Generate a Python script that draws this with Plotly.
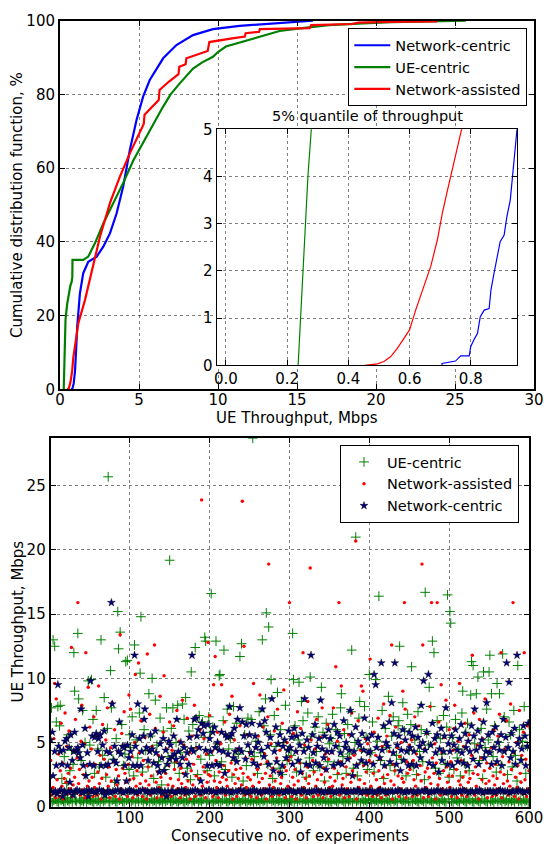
import plotly.graph_objects as go

NC_CDF_X = [0.706, 0.706, 0.75, 0.767, 0.795, 0.80, 0.811, 0.822, 0.831, 0.844, 0.86, 0.866, 0.876, 0.887, 0.896,
            0.909, 0.918, 0.929, 0.936, 0.944, 0.951, 1.0, 1.09, 1.26, 1.47, 1.79, 2.32, 2.74, 3.16, 3.58,
            4.0, 4.42, 4.84, 5.26, 5.68, 6.53, 7.37, 8.42, 9.68, 11.37, 13.9, 15.9, 16.0]
NC_CDF_Y = [0, 0.04, 0.09, 0.2, 0.2, 0.4, 0.55, 0.68, 1.03, 1.17, 1.2, 1.6, 1.95, 2.3, 2.62,
            2.76, 3.15, 3.5, 4.0, 4.49, 5.0, 9, 17, 26, 31.5, 34.6, 36, 38.7, 42.3, 47.7,
            55, 64.9, 73, 79.4, 83.9, 89.8, 93.4, 96.1, 97.7, 98.6, 99.3, 99.8, 100]

UE_CDF_X = [0.236, 0.244, 0.252, 0.260, 0.268, 0.279, 0.30, 0.35, 0.45, 0.55, 0.65, 0.74, 0.78, 0.79, 1.47,
            1.79, 2.21, 2.74, 3.37, 4.0, 4.63, 5.26, 5.89, 6.5, 7.0, 7.58, 8.42, 9.0, 9.68, 10.0,
            10.5, 12.2, 13.9, 15.2, 17.0, 19.2, 21.0, 25.7]
UE_CDF_Y = [0, 1, 2, 3, 4, 5, 12, 19, 23, 26, 28, 29.2, 30.5, 35.1, 35.1,
            36, 39.6, 45, 50.5, 56, 62, 67, 72, 76.5, 80, 83, 87, 88.7, 90.2, 91.5,
            93, 95.2, 97.2, 97.9, 98.8, 99.3, 99.6, 100]

NA_CDF_X = [0.453, 0.495, 0.516, 0.538, 0.560, 0.600, 0.620, 0.647, 0.669, 0.691, 0.707, 0.724, 0.746, 0.770, 0.84,
            1.0, 1.16, 1.58, 2.0, 2.53, 3.16, 3.79, 4.42, 5.05, 5.3, 5.35, 5.9, 6.25, 6.3, 6.9,
            7.5, 7.55, 7.95, 8.0, 9.35, 9.45, 10.9, 11.7, 11.75, 12.6, 12.65, 14.0, 15.8, 15.9, 18.5,
            18.9, 20.7, 23.8, 23.9]
NA_CDF_Y = [0, 0.03, 0.08, 0.18, 0.36, 0.75, 1.17, 1.67, 2.09, 2.66, 3.22, 3.71, 4.35, 5.0, 8.5,
            14, 17.9, 24.2, 31.5, 41.4, 50.5, 57.7, 64.0, 69.4, 72, 74.5, 77, 78.5, 81.2, 83.5,
            85.5, 87.5, 88.2, 89.8, 91.8, 94.2, 95.2, 95.7, 96.6, 97.0, 97.7, 97.9, 98.0, 98.8, 99.1,
            99.5, 99.7, 99.8, 100]

# ---------------- data: per-experiment throughput (bottom panel), Mbps ----------------
UE_CENTRIC = [
    0.4, 7.7, 0.3, 13.0, 0.5, 12.5, 0.6, 6.6, 0.4, 7.8, 0.3, 6.3, 7.9, 0.5, 2.2, 0.6, 0.4, 3.9, 0.3, 0.7,
    1.8, 0.5, 5.6, 0.4, 2.8, 0.6, 4.4, 0.3, 3.3, 12.0, 9.0, 0.5, 0.4, 4.2, 13.5, 8.4, 0.6, 0.3, 3.6, 0.5,
    7.5, 0.4, 0.7, 5.0, 2.5, 0.3, 0.6, 9.8, 0.5, 4.8,
    0.5, 9.9, 0.4, 6.8, 0.3, 2.6, 0.6, 7.5, 0.4, 4.5, 0.5, 3.1, 0.3, 13.0, 0.6, 4.0, 0.4, 8.5, 0.5, 2.3,
    0.7, 6.1, 25.7, 0.4, 0.3, 10.6, 7.7, 0.5, 3.7, 0.6, 1.9, 0.4, 5.3, 0.3, 15.2, 12.3, 0.5, 13.6, 0.6, 6.4,
    0.4, 3.2, 0.3, 4.1, 11.3, 0.5, 11.4, 0.6, 2.9, 5.6,
    4.6, 0.4, 7.0, 0.5, 2.4, 12.6, 0.3, 5.2, 0.6, 3.8, 0.4, 7.3, 10.4, 14.8, 0.5, 2.7, 0.3, 6.0, 0.6, 4.4,
    0.4, 0.5, 3.1, 8.8, 0.3, 5.5, 0.6, 10.0, 0.4, 2.2, 0.5, 8.3, 0.3, 4.8, 0.6, 3.5, 0.4, 6.9, 0.5, 1.7,
    0.3, 5.9, 0.6, 2.9, 0.4, 7.7, 0.5, 3.9, 0.7, 19.2,
    0.4, 6.1, 0.3, 7.7, 0.5, 3.4, 0.6, 5.0, 0.4, 7.9, 0.3, 2.6, 0.5, 4.2, 0.6, 8.0, 0.4, 6.8, 0.3, 8.5,
    0.5, 3.0, 0.4, 5.9, 0.6, 2.1, 10.5, 0.3, 6.4, 0.5, 0.4, 12.4, 4.6, 0.6, 2.5, 0.3, 7.1, 0.5, 3.7, 0.4,
    6.6, 0.6, 5.4, 13.2, 12.9, 0.3, 2.8, 0.5, 7.0, 4.0,
    5.8, 16.6, 0.4, 6.2, 0.3, 2.4, 0.5, 12.9, 0.6, 4.9, 0.4, 10.2, 10.3, 0.3, 3.5, 0.5, 6.7, 12.2, 0.6, 2.9,
    0.4, 7.6, 0.3, 4.5, 0.5, 5.3, 0.6, 2.3, 0.4, 7.8, 0.3, 3.6, 0.5, 6.5, 0.6, 4.1, 0.4, 11.7, 0.3, 12.7,
    0.5, 2.0, 0.6, 5.6, 0.4, 3.2, 0.3, 6.9, 0.5, 4.3,
    0.4, 6.8, 0.5, 28.7, 0.3, 3.9, 0.6, 5.1, 0.4, 2.6, 0.5, 7.4, 0.3, 4.2, 0.6, 13.0, 0.4, 6.3, 0.5, 8.4,
    15.1, 0.3, 3.3, 14.0, 0.6, 5.6, 9.9, 0.4, 2.2, 0.5, 7.1, 0.3, 4.7, 0.6, 8.9, 0.4, 3.0, 0.5, 6.0, 0.3,
    2.5, 0.6, 5.0, 0.4, 7.9, 0.5, 3.6, 0.3, 4.4, 0.6,
    0.5, 4.0, 0.4, 13.5, 9.9, 0.3, 6.3, 0.6, 2.7, 0.4, 5.2, 9.7, 0.5, 3.4, 8.2, 0.3, 6.7, 0.6, 4.6, 0.4,
    2.3, 0.5, 7.3, 0.3, 3.8, 10.1, 0.6, 5.5, 0.4, 2.8, 0.5, 6.2, 0.3, 4.3, 0.6, 7.0, 0.4, 3.1, 0.5, 9.3,
    0.3, 5.8, 0.6, 2.0, 0.4, 6.5, 0.5, 3.5, 0.3, 4.9,
    0.4, 5.3, 0.3, 7.2, 0.6, 3.3, 0.5, 6.0, 0.4, 2.5, 0.3, 4.7, 0.6, 7.7, 8.8, 0.5, 3.9, 0.4, 5.7, 0.3,
    2.6, 0.6, 6.4, 0.4, 4.1, 0.5, 7.4, 12.2, 0.3, 3.0, 0.6, 5.0, 21.0, 0.4, 2.4, 0.5, 6.9, 8.2, 0.3, 4.5,
    0.6, 3.4, 0.4, 7.8, 0.5, 5.4, 0.3, 2.9, 0.6, 10.3,
    0.5, 4.2, 0.3, 6.6, 0.6, 2.7, 0.4, 9.9, 0.5, 5.1, 0.3, 16.4, 0.6, 3.6, 0.4, 7.5, 0.5, 2.2, 0.3, 6.1,
    0.6, 4.6, 0.4, 8.6, 0.5, 3.2, 0.3, 5.5, 0.6, 7.0, 0.4, 2.8, 0.5, 4.0, 0.3, 6.3, 6.7, 12.5, 0.6, 3.7,
    0.4, 8.1, 0.5, 5.9, 0.3, 2.4, 0.6, 7.2, 0.4, 4.4,
    0.4, 6.4, 10.9, 0.3, 3.1, 0.6, 5.2, 0.5, 2.5, 0.4, 7.4, 0.3, 4.3, 0.6, 6.0, 0.5, 3.5, 0.4, 2.1, 16.7,
    0.3, 5.7, 0.6, 4.8, 9.3, 0.5, 7.8, 0.4, 12.9, 0.3, 12.0, 0.6, 3.0, 0.5, 6.7, 0.4, 2.6, 0.3, 5.3, 0.6,
    4.1, 0.5, 7.1, 0.4, 3.3, 0.3, 6.2, 16.5, 0.6, 2.3,
    15.2, 14.3, 0.4, 5.4, 0.3, 2.9, 0.6, 6.8, 0.5, 3.8, 0.4, 4.5, 0.3, 2.4, 0.6, 7.3, 9.0, 0.5, 3.4, 0.4,
    5.8, 0.3, 6.5, 0.6, 2.8, 0.5, 8.7, 11.3, 0.4, 11.0, 0.3, 4.9, 0.6, 8.8, 0.5, 10.1, 0.4, 3.6, 0.3, 6.1,
    0.6, 2.2, 10.5, 0.5, 4.6, 0.4, 7.6, 0.3, 5.2, 10.5,
    11.8, 0.4, 8.8, 0.5, 3.9, 0.3, 6.3, 0.6, 2.7, 9.6, 0.4, 5.0, 8.8, 0.5, 3.2, 0.3, 11.9, 0.6, 7.0, 0.4,
    4.4, 0.5, 2.5, 0.3, 6.6, 0.6, 5.6, 0.4, 3.1, 0.5, 7.5, 0.3, 4.0, 0.6, 2.0, 11.0, 0.4, 6.0, 0.5, 3.7,
    0.3, 5.1, 0.6, 7.8, 0.4, 2.6, 0.5, 4.7, 0.3, 6.4,
]

NETWORK_ASSISTED = [
    3.6, 0.9, 2.4, 1.5, 5.3, 9.6, 0.7, 8.4, 2.1, 1.2, 4.1, 0.8, 2.8, 6.5, 1.6, 3.4, 0.6, 2.2, 7.3, 1.9,
    4.7, 1.0, 2.6, 5.9, 1.4, 3.0, 12.4, 0.8, 1.7, 4.4, 2.3, 6.8, 1.1, 3.8, 15.9, 1.8, 2.9, 0.9, 5.1, 7.9,
    1.3, 2.5, 4.9, 0.7, 12.0, 3.2, 1.6, 9.3, 2.0, 6.2,
    1.1, 4.5, 2.3, 0.8, 7.0, 1.5, 3.3, 5.6, 0.9, 2.7, 9.4, 1.8, 4.0, 0.6, 2.2, 6.4, 1.3, 3.7, 0.9, 5.2,
    2.5, 7.7, 1.6, 3.1, 0.7, 4.6, 2.0, 8.1, 1.2, 3.5, 6.0, 0.8, 2.9, 1.7, 4.3, 2.4, 0.6, 13.4, 1.4, 5.7,
    3.0, 1.0, 7.4, 2.6, 1.9, 4.8, 0.8, 3.3, 8.7, 2.1,
    7.6, 1.3, 3.9, 0.7, 2.2, 5.0, 10.3, 1.6, 2.8, 0.9, 11.2, 4.2, 1.8, 6.7, 2.5, 0.8, 3.6, 1.4, 5.4, 2.0,
    0.6, 11.9, 3.1, 1.7, 7.2, 0.9, 2.4, 4.7, 1.2, 3.4, 12.6, 6.1, 1.9, 0.7, 2.7, 4.0, 1.5, 8.6, 2.3, 0.8,
    3.8, 5.8, 10.2, 1.1, 2.6, 4.5, 0.9, 1.7, 3.2, 6.6,
    2.2, 0.8, 4.4, 1.6, 6.3, 2.9, 1.0, 3.5, 7.5, 1.4, 2.1, 5.1, 0.7, 3.0, 1.8, 8.3, 2.6, 4.8, 0.9, 1.5,
    3.7, 6.9, 2.0, 1.2, 4.2, 0.6, 2.8, 5.5, 1.7, 3.3, 7.9, 0.8, 2.4, 4.6, 1.3, 3.9, 2.2, 6.0, 0.9, 23.9,
    1.6, 3.1, 5.3, 2.7, 0.7, 4.1, 1.9, 12.8, 2.5, 7.1,
    2.4, 1.1, 4.3, 0.8, 9.5, 2.0, 11.7, 3.6, 1.5, 5.8, 0.7, 2.7, 1.9, 4.9, 9.5, 2.3, 1.2, 3.2, 6.6, 0.9,
    2.1, 1.6, 4.0, 2.8, 7.2, 1.3, 3.4, 8.6, 0.6, 2.5, 5.2, 1.8, 2.9, 0.8, 4.5, 2.2, 1.4, 6.3, 3.0, 1.7,
    23.8, 2.6, 12.5, 0.9, 3.8, 1.5, 5.6, 2.3, 1.0, 4.2,
    2.1, 0.8, 3.7, 1.6, 9.6, 2.5, 4.6, 1.2, 0.7, 2.9, 5.5, 1.9, 8.7, 3.3, 0.9, 2.2, 6.2, 1.4, 4.1, 2.6,
    0.6, 3.5, 7.0, 18.9, 1.7, 2.4, 4.9, 0.8, 3.0, 1.5, 5.9, 2.0, 1.1, 3.8, 7.6, 2.7, 0.9, 4.4, 1.8, 2.3,
    6.5, 1.3, 9.1, 3.1, 0.7, 2.8, 5.0, 1.6, 3.6, 15.9,
    1.4, 3.9, 0.8, 2.3, 5.7, 1.7, 2.9, 0.6, 4.3, 7.4, 2.0, 1.2, 3.4, 6.1, 0.9, 2.6, 12.0, 1.5, 4.8, 2.2,
    0.7, 3.1, 8.2, 1.8, 2.4, 18.6, 5.2, 1.1, 3.6, 0.8, 2.7, 4.5, 1.6, 6.8, 2.1, 0.9, 3.3, 1.3, 5.4, 2.5,
    7.7, 0.7, 3.0, 1.9, 4.1, 2.8, 1.0, 6.4, 3.7, 1.5,
    2.3, 0.8, 4.2, 1.6, 7.7, 3.0, 2.0, 10.9, 1.2, 5.1, 2.6, 15.9, 0.9, 3.5, 9.4, 1.7, 2.2, 6.0, 0.7, 4.6,
    3.1, 1.4, 2.5, 5.6, 0.8, 3.8, 1.9, 7.3, 2.8, 1.1, 4.0, 2.4, 20.7, 0.6, 3.3, 6.7, 1.5, 2.1, 4.4, 9.4,
    1.0, 9.0, 3.2, 1.8, 5.3, 2.7, 0.9, 4.9, 1.3, 3.6,
    11.5, 1.6, 3.4, 0.8, 2.6, 5.8, 1.2, 4.0, 2.1, 0.9, 6.9, 2.8, 1.5, 3.7, 0.7, 4.7, 2.3, 8.0, 1.8, 3.1,
    0.9, 5.5, 2.5, 1.3, 4.3, 7.1, 2.0, 12.6, 0.6, 3.3, 1.7, 2.8, 6.2, 1.1, 4.6, 2.4, 0.8, 3.9, 1.4, 5.0,
    2.2, 9.0, 1.9, 15.9, 7.6, 0.7, 3.5, 2.6, 1.2, 4.8,
    2.9, 1.3, 5.2, 0.8, 3.6, 2.1, 7.0, 1.6, 4.1, 0.9, 2.5, 6.3, 1.2, 3.2, 2.0, 18.9, 12.6, 0.7, 4.5, 2.7,
    1.5, 5.7, 3.0, 0.8, 2.3, 7.8, 1.8, 15.9, 3.8, 1.1, 2.6, 4.9, 0.6, 3.4, 15.9, 1.7, 6.6, 2.2, 0.9, 9.5,
    4.2, 1.4, 2.8, 5.4, 1.0, 8.3, 3.1, 1.9, 2.4, 6.0,
    1.5, 3.5, 0.8, 2.4, 4.4, 6.1, 7.9, 1.2, 2.9, 0.7, 5.1, 2.0, 9.6, 1.7, 3.6, 0.9, 2.3, 4.7, 1.4, 6.5,
    2.7, 0.8, 3.3, 1.9, 5.6, 2.2, 1.1, 4.0, 11.8, 2.6, 7.3, 0.9, 3.1, 1.6, 4.8, 2.5, 0.6, 6.8, 1.3, 3.8,
    2.1, 5.3, 1.0, 2.8, 8.4, 1.8, 3.4, 0.7, 4.3, 2.0,
    3.0, 1.2, 4.6, 0.8, 2.4, 6.0, 1.7, 3.3, 0.9, 2.2, 5.5, 1.4, 7.2, 2.7, 12.0, 0.7, 3.9, 1.8, 2.5, 4.5,
    1.1, 6.7, 2.0, 0.9, 3.5, 1.6, 8.0, 2.9, 1.3, 15.9, 4.2, 0.8, 2.3, 5.0, 1.5, 3.2, 0.6, 7.5, 2.6, 1.9,
    4.0, 1.0, 5.8, 12.0, 2.1, 3.7, 0.8, 6.3, 1.4, 2.8,
]

NETWORK_CENTRIC = [
    5.2, 1.2, 5.8, 2.4, 1.1, 4.3, 1.2, 3.2, 1.0, 9.5, 4.7, 1.2, 4.3, 1.3, 3.3, 0.8, 4.4, 1.2, 5.1, 1.1,
    5.3, 3.2, 1.2, 4.6, 1.9, 5.6, 1.2, 3.6, 0.9, 4.3, 5.8, 1.2, 4.4, 1.3, 4.6, 4.2, 1.2, 3.8, 7.6, 1.1,
    4.8, 3.2, 1.2, 6.1, 2.4, 1.2, 4.2, 0.8, 1.3, 3.3,
    9.8, 1.2, 5.5, 1.2, 3.2, 5.4, 1.1, 5.7, 1.2, 4.3, 5.3, 1.3, 5.6, 3.2, 1.2, 4.8, 1.2, 5.9, 0.9, 3.2,
    4.3, 1.2, 3.3, 1.2, 4.2, 1.1, 15.9, 8.0, 1.2, 3.6, 4.7, 1.2, 3.4, 2.0, 1.3, 4.3, 6.6, 1.2, 4.1, 1.2,
    4.7, 1.1, 4.6, 3.2, 1.2, 2.0, 4.8, 1.2, 3.8, 1.3,
    4.3, 1.2, 5.6, 3.2, 1.2, 11.8, 4.7, 1.1, 3.2, 8.0, 1.2, 5.3, 1.2, 3.2, 4.3, 1.3, 5.5, 6.8, 7.6, 1.2,
    4.6, 1.2, 3.6, 1.1, 4.3, 5.6, 1.2, 4.5, 1.2, 3.4, 1.2, 5.9, 4.2, 1.3, 3.2, 1.2, 2.7, 4.9, 1.2, 3.8,
    1.1, 5.3, 2.8, 1.2, 4.4, 0.8, 3.3, 1.2, 5.1, 3.7,
    4.8, 1.2, 3.9, 1.2, 5.5, 4.1, 1.1, 3.7, 6.8, 1.2, 4.3, 1.2, 3.3, 5.0, 1.3, 3.8, 1.2, 4.6, 1.2, 2.5,
    1.1, 4.2, 1.2, 3.3, 5.4, 1.2, 4.5, 11.8, 1.2, 4.3, 6.8, 1.3, 6.9, 5.5, 1.2, 6.0, 4.6, 1.1, 2.0, 6.5,
    1.2, 5.7, 6.3, 1.2, 4.4, 1.2, 3.2, 6.4, 1.3, 5.3,
    4.3, 1.2, 3.2, 5.8, 1.2, 6.2, 4.6, 1.1, 3.3, 5.0, 1.2, 4.4, 3.2, 1.2, 5.8, 1.3, 4.3, 1.2, 2.6, 5.6,
    1.2, 5.4, 4.1, 1.2, 7.8, 5.5, 1.1, 5.7, 1.2, 3.8, 6.1, 4.3, 1.2, 3.5, 6.8, 1.2, 4.5, 7.7, 1.3, 4.3,
    6.6, 1.2, 5.5, 1.2, 3.7, 6.4, 1.1, 4.8, 1.2, 5.6,
    1.2, 4.2, 6.5, 1.2, 3.4, 1.3, 5.5, 4.6, 1.2, 3.2, 5.0, 1.1, 6.4, 1.2, 4.4, 7.6, 1.2, 3.9, 6.7, 1.2,
    5.8, 1.2, 4.7, 3.3, 1.3, 5.4, 1.2, 8.4, 1.1, 2.8, 4.3, 1.2, 6.2, 3.5, 1.2, 4.9, 1.2, 5.6, 2.6, 1.2,
    3.2, 4.7, 1.1, 5.2, 1.2, 3.8, 1.2, 4.4, 5.9, 1.3,
    4.6, 1.2, 5.4, 3.3, 1.2, 6.1, 1.1, 4.3, 5.5, 1.2, 3.6, 1.2, 4.8, 2.7, 1.3, 5.7, 1.2, 4.3, 8.4, 1.2,
    3.3, 5.2, 1.1, 4.6, 1.2, 3.2, 11.8, 1.2, 5.6, 4.2, 1.2, 6.4, 3.4, 1.3, 4.7, 1.2, 5.3, 3.2, 8.3, 1.2,
    4.5, 1.1, 3.8, 5.5, 1.2, 2.9, 4.3, 1.2, 6.0, 1.2,
    5.3, 1.2, 4.3, 1.2, 3.2, 6.4, 1.1, 4.7, 1.2, 5.8, 3.4, 1.2, 5.5, 4.2, 1.3, 3.3, 1.2, 6.7, 1.2, 4.6,
    5.0, 1.1, 3.7, 1.2, 4.4, 7.5, 1.2, 5.6, 2.4, 1.2, 4.3, 1.2, 6.2, 3.2, 1.3, 5.1, 1.2, 4.8, 1.1, 3.6,
    5.7, 1.2, 4.4, 6.9, 1.2, 3.4, 1.2, 5.3, 4.2, 1.2,
    4.3, 1.2, 5.6, 1.2, 3.3, 10.3, 1.1, 9.5, 4.6, 1.2, 5.4, 1.2, 3.8, 1.3, 11.2, 4.4, 1.2, 6.3, 3.2, 1.2,
    5.0, 1.1, 4.7, 1.2, 6.6, 3.5, 1.2, 8.1, 1.2, 4.2, 5.7, 11.2, 1.2, 3.3, 4.8, 1.3, 5.5, 1.2, 2.8, 4.4,
    1.2, 6.0, 3.6, 1.1, 5.2, 1.2, 4.3, 1.2, 3.2, 5.8,
    4.6, 1.2, 3.3, 5.5, 1.2, 4.3, 1.1, 6.2, 3.2, 1.2, 5.4, 1.2, 4.7, 3.8, 7.9, 1.2, 5.0, 9.8, 1.3, 4.4,
    1.2, 5.8, 1.2, 10.3, 3.4, 1.1, 4.8, 1.2, 6.5, 3.2, 1.2, 5.3, 4.2, 1.2, 5.6, 1.3, 2.7, 4.5, 1.2, 6.1,
    3.6, 1.2, 4.3, 5.5, 1.1, 7.7, 1.2, 3.3, 4.9, 1.2,
    4.3, 1.2, 5.5, 3.2, 1.2, 4.8, 1.1, 6.0, 1.2, 4.4, 3.5, 1.2, 5.3, 1.2, 6.4, 4.2, 1.3, 3.4, 1.2, 5.7,
    4.6, 1.2, 3.2, 5.1, 1.1, 4.3, 1.2, 6.3, 1.2, 3.7, 5.5, 7.6, 1.2, 4.4, 1.2, 5.9, 3.3, 1.3, 4.7, 1.2,
    5.2, 1.1, 6.6, 3.8, 1.2, 4.3, 8.1, 1.2, 5.6, 1.2,
    4.2, 1.2, 3.3, 5.8, 1.2, 4.6, 1.1, 6.2, 1.2, 3.5, 5.0, 1.2, 4.4, 1.3, 5.6, 3.2, 1.2, 6.8, 4.3, 1.2,
    5.4, 11.2, 1.2, 4.6, 9.7, 1.1, 3.8, 5.7, 1.2, 4.3, 1.2, 6.1, 3.3, 1.2, 11.8, 4.9, 1.3, 5.3, 1.2, 3.6,
    4.5, 1.2, 6.3, 1.1, 5.5, 3.2, 1.2, 4.7, 6.5, 1.2,
]

SERIES_NAMES = ["Network-centric", "UE-centric", "Network-assisted"]
CDF_X_TICKS = [0, 5, 10, 15, 20, 25, 30]
CDF_Y_TICKS = [0, 20, 40, 60, 80, 100]
INSET_X_TICKS = [0.0, 0.2, 0.4, 0.6, 0.8]
INSET_Y_TICKS = [0, 1, 2, 3, 4, 5]
EXP_X_TICKS = [100, 200, 300, 400, 500, 600]
EXP_Y_TICKS = [0, 5, 10, 15, 20, 25]

# ---------------- layout geometry (pixels of a 547x844 canvas) ----------------
W, H = 547, 844
FONT = "DejaVu Sans"
BLUE, GREEN, RED, NAVY = "#0000ff", "#008000", "#ff0000", "#000080"


def fx(p):
    return p / W


def fy(p):
    return 1 - p / H


TOP_X = [fx(60), fx(534)]
TOP_Y = [fy(389.3), fy(20.7)]
INS_X = [fx(216.7), fx(517.3)]
INS_Y = [fy(365.3), fy(129.3)]
BOT_X = [fx(50.7), fx(529)]
BOT_Y = [fy(806.7), fy(438.3)]

TOP_XR, TOP_YR = [0, 30], [0, 100]
INS_XR, INS_YR = [-0.03, 0.952], [0, 5]
BOT_XR, BOT_YR = [1, 600], [0, 28.7]

fig = go.Figure()


# white patch on the main CDF axes behind the inset (so main grid does not show through)
def paper_to_data(p, dom, rng):
    return rng[0] + (p - dom[0]) / (dom[1] - dom[0]) * (rng[1] - rng[0])


px0 = paper_to_data(INS_X[0], TOP_X, TOP_XR)
px1 = paper_to_data(INS_X[1], TOP_X, TOP_XR)
py0 = paper_to_data(INS_Y[0], TOP_Y, TOP_YR)
py1 = paper_to_data(INS_Y[1], TOP_Y, TOP_YR)
fig.add_trace(go.Scatter(x=[px0, px1, px1, px0, px0], y=[py0, py0, py1, py1, py0],
                         mode="lines", fill="toself", fillcolor="white",
                         line=dict(width=0, color="white"), hoverinfo="skip",
                         showlegend=False, xaxis="x", yaxis="y"))

cdfs = [(NC_CDF_X, NC_CDF_Y, BLUE), (UE_CDF_X, UE_CDF_Y, GREEN), (NA_CDF_X, NA_CDF_Y, RED)]
for i, (name, (cx, cy, col)) in enumerate(zip(SERIES_NAMES, cdfs)):
    fig.add_trace(go.Scatter(x=cx, y=cy, mode="lines", name=name,
                             line=dict(color=col, width=2.2),
                             xaxis="x", yaxis="y", legend="legend",
                             legendgroup="top%d" % i))

# inset: zoom on the lowest 5% of the same CDFs
for name, (cx, cy, col) in zip(SERIES_NAMES, cdfs):
    fig.add_trace(go.Scatter(x=cx, y=cy, mode="lines", name=name, showlegend=False,
                             line=dict(color=col, width=1.2),
                             xaxis="x3", yaxis="y3"))

# bottom scatter
exp_ue = list(range(1, len(UE_CENTRIC) + 1))
exp_na = list(range(1, len(NETWORK_ASSISTED) + 1))
exp_nc = list(range(1, len(NETWORK_CENTRIC) + 1))
fig.add_trace(go.Scatter(x=exp_ue, y=UE_CENTRIC, mode="markers", name="UE-centric",
                         marker=dict(symbol="cross-thin", size=7, color=GREEN,
                                     line=dict(color=GREEN, width=1.0)),
                         xaxis="x2", yaxis="y2", legend="legend2", legendgroup="b0"))
fig.add_trace(go.Scatter(x=exp_na, y=NETWORK_ASSISTED, mode="markers", name="Network-assisted",
                         marker=dict(symbol="circle", size=3.4, color=RED, line=dict(width=0)),
                         xaxis="x2", yaxis="y2", legend="legend2", legendgroup="b1"))
fig.add_trace(go.Scatter(x=exp_nc, y=NETWORK_CENTRIC, mode="markers", name="Network-centric",
                         marker=dict(symbol="star", size=6, color=NAVY,
                                     line=dict(color="black", width=0.4)),
                         xaxis="x2", yaxis="y2", legend="legend2", legendgroup="b2"))


def axis(domain, rng, tickvals, anchor, ticktext=None, lw=2.0, font=15, standoff=0):
    d = dict(domain=domain, range=rng, tickmode="array", tickvals=tickvals,
             anchor=anchor, showline=True, linecolor="black", linewidth=lw,
             mirror="ticks", ticks="inside", ticklen=5, tickwidth=1, tickcolor="black",
             showgrid=True, gridcolor="rgba(0,0,0,0.5)", griddash="dot", gridwidth=1,
             zeroline=False, automargin=False, fixedrange=True,
             ticklabelstandoff=standoff,
             tickfont=dict(family=FONT, size=font, color="black"))
    if ticktext is not None:
        d["ticktext"] = ticktext
    return d


title_font = dict(family=FONT, size=15, color="black")
annotations = [
    dict(text="UE Throughput, Mbps", x=fx(297), y=fy(418), xref="paper", yref="paper",
         showarrow=False, font=title_font, xanchor="center", yanchor="middle"),
    dict(text="Cumulative distribution function, %", x=fx(17), y=fy(205), xref="paper", yref="paper",
         showarrow=False, font=title_font, textangle=-90, xanchor="center", yanchor="middle"),
    dict(text="5% quantile of throughput", x=fx(367), y=fy(116), xref="paper", yref="paper",
         showarrow=False, font=dict(family=FONT, size=14.5, color="black"),
         xanchor="center", yanchor="middle"),
    dict(text="Consecutive no. of experiments", x=fx(290), y=fy(836), xref="paper", yref="paper",
         showarrow=False, font=title_font, xanchor="center", yanchor="middle", borderpad=0),
    dict(text="UE Throughput, Mbps", x=fx(17.5), y=fy(622), xref="paper", yref="paper",
         showarrow=False, font=title_font, textangle=-90, xanchor="center", yanchor="middle"),
]

legend_common = dict(bgcolor="white", bordercolor="black", borderwidth=1,
                     font=dict(family=FONT, size=14.5, color="black"),
                     xanchor="left", yanchor="top", tracegroupgap=0, itemwidth=36)

fig.update_layout(
    width=W, height=H, autosize=False, template="none",
    margin=dict(l=0, r=0, t=0, b=0, pad=0),
    paper_bgcolor="white", plot_bgcolor="white",
    font=dict(family=FONT, size=15, color="black"),
    xaxis=axis(TOP_X, TOP_XR, CDF_X_TICKS, "y", standoff=-4),
    yaxis=axis(TOP_Y, TOP_YR, CDF_Y_TICKS, "x"),
    xaxis2=axis(BOT_X, BOT_XR, EXP_X_TICKS, "y2", standoff=-4),
    yaxis2=axis(BOT_Y, BOT_YR, EXP_Y_TICKS, "x2"),
    xaxis3=axis(INS_X, INS_XR, INSET_X_TICKS, "y3",
                ticktext=["%.1f" % v for v in INSET_X_TICKS], lw=1.3),
    yaxis3=axis(INS_Y, INS_YR, INSET_Y_TICKS, "x3", lw=1.3),
    legend=dict(x=fx(348.3), y=fy(28.3), **legend_common),
    legend2=dict(x=fx(340), y=fy(445), **legend_common),
    annotations=annotations,
    showlegend=True,
)

fig.write_html("out.html", config={"displayModeBar": False},
               post_script="document.body.style.margin='0';document.body.style.padding='0';"
                           "document.body.style.overflow='hidden';")
